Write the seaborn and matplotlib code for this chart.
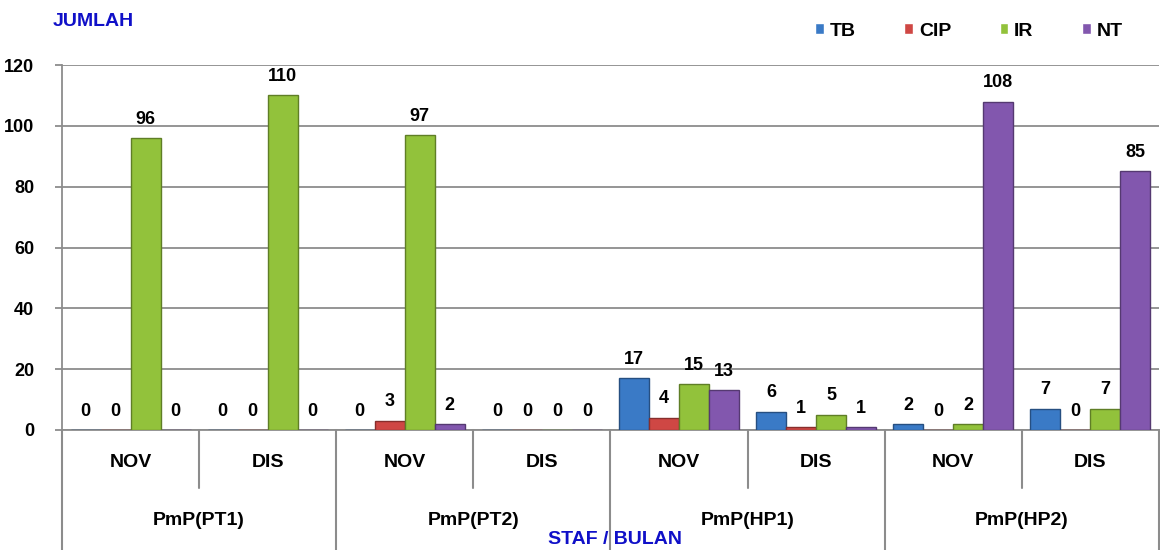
import matplotlib
matplotlib.use("Agg")
import matplotlib.pyplot as plt
import matplotlib.colors as mcolors
import seaborn as sns
import pandas as pd

# === Data ===
staf = ["PmP(PT1)", "PmP(PT2)", "PmP(HP1)", "PmP(HP2)"]
bulan = ["NOV", "DIS"]
siri = ["TB", "CIP", "IR", "NT"]
tb = [0, 0, 0, 0, 17, 6, 2, 7]
cip = [0, 0, 3, 0, 4, 1, 0, 0]
ir = [96, 110, 97, 0, 15, 5, 2, 7]
nt = [0, 0, 2, 0, 13, 1, 108, 85]
warna = ["#3A7AC6", "#CF4744", "#92C23B", "#8257AE"]

kumpulan = [f"{s} {b}" for s in staf for b in bulan]
rows = []
for nama, nilai in zip(siri, [tb, cip, ir, nt]):
    for k, v in zip(kumpulan, nilai):
        rows.append({"kumpulan": k, "siri": nama, "nilai": v})
df = pd.DataFrame(rows)

# === Style ===
sns.set_theme(style="white")
plt.rcParams["font.family"] = ["Liberation Sans", "DejaVu Sans"]
plt.rcParams["font.weight"] = "bold"
plt.rcParams["text.color"] = "black"
plt.rcParams["ytick.labelcolor"] = "black"
grey = "#8C8C8C"
blue_txt = "#1010C8"

fig = plt.figure(figsize=(11.6, 5.5), dpi=100)
ax = fig.add_axes([62 / 1160, 1 - 430 / 550, 1 - 62 / 1160 - 0.001, 365 / 550])

sns.barplot(data=df, x="kumpulan", y="nilai", hue="siri", order=kumpulan,
            hue_order=siri, palette=warna, saturation=1, width=0.875,
            ax=ax, zorder=3)

# darker edges for a bevel-ish look
for cont, c in zip(ax.containers, warna):
    dark = tuple(x * 0.65 for x in mcolors.to_rgb(c))
    for p in cont:
        p.set_edgecolor(dark)
        p.set_linewidth(1.0)
    ax.bar_label(cont, fmt="%d", padding=7.5, fontsize=13, fontweight="bold",
                 color="black")

# === Axes ===
ax.set_ylim(0, 120)
ax.set_xlim(-0.5, len(kumpulan) - 0.5)
ax.set_yticks(range(0, 121, 20))
ax.yaxis.grid(True, color=grey, linewidth=1.3)
ax.set_axisbelow(True)
ax.tick_params(axis="y", which="both", left=True, length=5, width=1.3,
               color=grey, pad=15, labelsize=13, labelcolor="black")
for lbl in ax.get_yticklabels():
    lbl.set_fontweight("bold")
ax.set_xticks([])
ax.set_xlabel("")
ax.set_ylabel("")
for side in ["top", "right"]:
    ax.spines[side].set_visible(False)
for side in ["left", "bottom"]:
    ax.spines[side].set_color(grey)
    ax.spines[side].set_linewidth(1.3)

# === Two-level category axis ===
tr = ax.get_xaxis_transform()
for i, k in enumerate(kumpulan):
    ax.text(i, -0.09, k.split()[1], transform=tr, ha="center", va="center",
            fontsize=14, fontweight="bold", color="black")
for j, s in enumerate(staf):
    ax.text(2 * j + 0.5, -0.247, s, transform=tr, ha="center", va="center",
            fontsize=14, fontweight="bold", color="black")
    # month divider inside each staff block
    ax.plot([2 * j + 0.5] * 2, [0, -0.159], transform=tr, color=grey,
            lw=1.5, clip_on=False)
for j in range(len(staf) + 1):
    ax.plot([2 * j - 0.5] * 2, [0, -0.33], transform=tr, color=grey,
            lw=1.5, clip_on=False)

# === Legend ===
handles, labels = ax.get_legend_handles_labels()
ax.get_legend().remove()
leg = fig.legend(handles, labels, loc="center left",
                 bbox_to_anchor=(815 / 1160, 1 - 31 / 550),
                 ncol=4, frameon=False, borderpad=0, borderaxespad=0,
                 handlelength=0.45, handleheight=0.45, handletextpad=0.3,
                 columnspacing=2.5, prop={"size": 14, "weight": "bold"})
for t in leg.get_texts():
    t.set_color("black")

# === Axis titles ===
fig.text(93 / 1160, 1 - 22 / 550, "JUMLAH", color=blue_txt, fontsize=14,
         fontweight="bold", ha="center", va="center")
fig.text(615 / 1160, 1 - 540 / 550, "STAF / BULAN", color=blue_txt, fontsize=14,
         fontweight="bold", ha="center", va="center")

fig.savefig("out.png", dpi=100)
